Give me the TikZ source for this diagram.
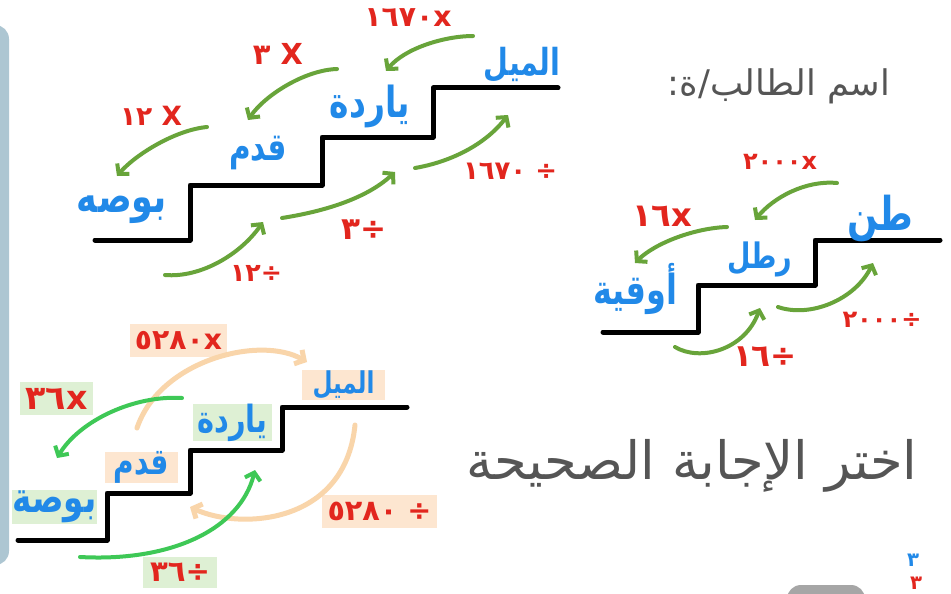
\documentclass[tikz,border=0pt]{standalone}
\usepackage{graphicx}
\usepackage{fontspec}
\usetikzlibrary{arrows.meta}
\newfontfamily\arabicfont[Script=Arabic]{DejaVu Sans}
\newfontfamily\numfont{DejaVu Sans}
\TeXXeTstate=1
\definecolor{hblue}{RGB}{33,137,232}
\definecolor{hred}{RGB}{226,38,30}
\definecolor{hgreen}{RGB}{104,164,58}
\definecolor{bgreen}{RGB}{62,200,86}
\definecolor{peach}{RGB}{249,213,170}
\definecolor{greenbg}{RGB}{222,240,212}
\definecolor{peachbg}{RGB}{253,230,208}
\definecolor{graytxt}{RGB}{85,85,85}
\definecolor{panel}{RGB}{173,198,210}
\newcommand\fitar[2]{\scalebox{1}[1.3]{\resizebox{#1pt}{!}{\arabicfont\bfseries\beginR #2\endR}}}
\newcommand\fitnum[2]{\resizebox{#1pt}{!}{\numfont\bfseries #2}}
\newcommand\fitnumr[2]{\resizebox{#1pt}{!}{\numfont\bfseries\beginR #2\endR}}
\newcommand\fitplain[2]{\resizebox{#1pt}{!}{\arabicfont #2}}
\tikzset{
  stair/.style={line width=5pt, line cap=round, line join=round},
  garrow/.style={hgreen, line width=4pt, line cap=round, -{Straight Barb[length=7pt,width=16pt]}},
  barrow/.style={bgreen, line width=4pt, line cap=round, -{Straight Barb[length=7pt,width=16pt]}},
  parrow/.style={peach, line width=5pt, line cap=round, -{Straight Barb[length=7pt,width=16pt]}},
  lbl/.style={inner sep=0pt, text=hblue},
  num/.style={inner sep=0pt, text=hred},
  gbox/.style={fill=greenbg, inner sep=0pt},
  pbox/.style={fill=peachbg, inner sep=0pt},
  gtext/.style={inner sep=0pt, text=graytxt}
}
\begin{document}
\begin{tikzpicture}[x=1pt,y=-1pt]
\useasboundingbox (0,0) rectangle (951,594);
\clip (0,0) rectangle (951,594);
\fill[white] (0,0) rectangle (951,594);
% left panel
\fill[panel, rounded corners=14pt] (-30,25) rectangle (9,565);

% ===== staircase 1 (top left)
\draw[stair] (95,240) -- (190,240) -- (190,185) -- (322,185) -- (322,137) -- (433,137) -- (433,88) -- (558,88);
\node[lbl] (bosa1) at (122,210) {\fitar{90}{بوصه}};
\node[lbl] (qadam1) at (258,153) {\fitar{58}{قدم}};
\node[lbl] (yarda1) at (370,106) {\fitar{80}{ياردة}};
\node[lbl] (mil1) at (522,65) {\fitar{77}{الميل}};
\node[num] (m12) at (151,116) {\fitnumr{62}{X ١٢}};
\node[num] (m3) at (278,54) {\fitnumr{50}{X ٣}};
\node[num] (m1670) at (408,18) {\fitnum{87}{١٦٧٠x}};
\node[num] (d12) at (256,273) {\fitnum{52}{١٢÷}};
\node[num] (d3) at (364,230) {\fitnum{45}{٣÷}};
\node[num] (d1670) at (510,171) {\fitnumr{94}{÷ ١٦٧٠}};
\coordinate (a1s) at (473,36); \coordinate (a1e) at (386,71);
\coordinate (a2s) at (337,69); \coordinate (a2e) at (248,120);
\coordinate (a3s) at (207,127); \coordinate (a3e) at (117,176);
\coordinate (b1s) at (165,275); \coordinate (b1e) at (263,222);
\coordinate (b2s) at (282,218); \coordinate (b2e) at (395,172);
\coordinate (b3s) at (415,168); \coordinate (b3e) at (508,115);
\draw[garrow] (a1s) .. controls (445,36) and (405,48) .. (a1e);
\draw[garrow] (a2s) .. controls (305,70) and (265,95) .. (a2e);
\draw[garrow] (a3s) .. controls (175,130) and (135,155) .. (a3e);
\draw[garrow] (b1s) .. controls (200,278) and (240,255) .. (b1e);
\draw[garrow] (b2s) .. controls (320,212) and (365,200) .. (b2e);
\draw[garrow] (b3s) .. controls (450,162) and (485,145) .. (b3e);

% ===== staircase 2 (right)
\draw[stair] (603,332) -- (698,332) -- (698,285) -- (815,285) -- (815,240) -- (940,240);
\node[lbl] (uqiya) at (635,289) {\fitar{84}{أوقية}};
\node[lbl] (ratl) at (760,259) {\fitar{65}{رطل}};
\node[lbl] (tan) at (880,218) {\fitar{66}{طن}};
\node[num] (m2000) at (780,162) {\fitnum{74}{٢٠٠٠x}};
\node[num] (m16) at (662,216) {\fitnum{60}{١٦x}};
\node[num] (d16) at (765,357) {\fitnum{64}{١٦÷}};
\node[num] (d2000) at (882,320) {\fitnum{79}{٢٠٠٠÷}};
\coordinate (c1s) at (837,183); \coordinate (c1e) at (755,220);
\coordinate (c2s) at (727,227); \coordinate (c2e) at (635,263);
\coordinate (e1s) at (675,347); \coordinate (e1e) at (760,308);
\coordinate (e2s) at (778,307); \coordinate (e2e) at (873,263);
\draw[garrow] (c1s) .. controls (805,180) and (773,198) .. (c1e);
\draw[garrow] (c2s) .. controls (695,228) and (655,243) .. (c2e);
\draw[garrow] (e1s) .. controls (700,362) and (745,350) .. (e1e);
\draw[garrow] (e2s) .. controls (810,318) and (855,300) .. (e2e);

% ===== staircase 3 (bottom left)
\node[pbox, text=hred, minimum width=97pt, minimum height=33pt] (p5280m) at (178.5,340.5) {\fitnum{87}{٥٢٨٠x}};
\node[gbox, text=hred, minimum width=73pt, minimum height=33pt] (g36m) at (56.5,398.5) {\fitnum{62}{٣٦x}};
\node[gbox, text=hblue, minimum width=85pt, minimum height=34pt] (bosa3) at (54.5,507) {\fitar{84}{بوصة}};
\node[pbox, text=hblue, minimum width=73pt, minimum height=31pt] (qadam3) at (141.5,467.5) {\fitar{55}{قدم}};
\node[gbox, text=hblue, minimum width=79pt, minimum height=35pt] (yarda3) at (232.5,422.5) {\fitar{70}{ياردة}};
\node[pbox, text=hblue, minimum width=83pt, minimum height=30pt] (mil3) at (343.5,385) {\fitar{62}{الميل}};
\node[gbox, text=hred, minimum width=74pt, minimum height=31pt] (g36d) at (180,572.5) {\fitnum{60}{٣٦÷}};
\node[pbox, text=hred, minimum width=115pt, minimum height=33pt] (p5280d) at (379.5,511.5) {\fitnumr{104}{÷ ٥٢٨٠}};
\draw[stair] (18,540) -- (107,540) -- (107,493) -- (190,493) -- (190,450) -- (282,450) -- (282,407) -- (407,407);
\coordinate (f1s) at (137,428); \coordinate (f1e) at (307,362);
\coordinate (f2s) at (182,398); \coordinate (f2e) at (57,458);
\coordinate (f3s) at (355,425); \coordinate (f3e) at (190,507);
\coordinate (f4s) at (80,557); \coordinate (f4e) at (255,470);
\draw[parrow] (f1s) .. controls (160,360) and (260,335) .. (f1e);
\draw[parrow] (f3s) .. controls (345,525) and (240,530) .. (f3e);
\draw[barrow] (f2s) .. controls (135,395) and (80,420) .. (f2e);
\draw[barrow] (f4s) .. controls (170,562) and (240,530) .. (f4e);

% ===== printed texts
\node[gtext] (name) at (779,86) {\fitplain{222}{\beginR اسم الطالب/ة:\endR}};
\node[gtext] (title) at (692,466) {\fitplain{451}{\beginR اختر الإجابة الصحيحة\endR}};

% ===== bottom right bits
\fill[gray!70, rounded corners=14pt] (787,585) rectangle (865,625);
\node[lbl] (three) at (913,560) {\fitnum{12}{٣}};
\node[num] (redbit) at (916,583) {\fitnum{12}{٣}};
\end{tikzpicture}
\end{document}
